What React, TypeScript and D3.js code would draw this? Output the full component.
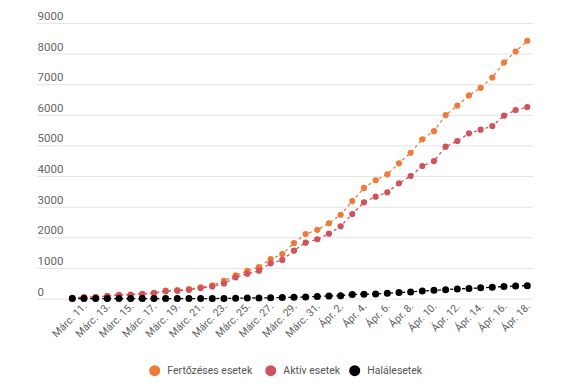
import React from "react";
import * as d3 from "d3";

const dates: string[] = [
  "Márc. 10.", "Márc. 11.", "Márc. 12.", "Márc. 13.", "Márc. 14.", "Márc. 15.", "Márc. 16.", "Márc. 17.",
  "Márc. 18.", "Márc. 19.", "Márc. 20.", "Márc. 21.", "Márc. 22.", "Márc. 23.", "Márc. 24.", "Márc. 25.",
  "Márc. 26.", "Márc. 27.", "Márc. 28.", "Márc. 29.", "Márc. 30.", "Márc. 31.",
  "Ápr. 1.", "Ápr. 2.", "Ápr. 3.", "Ápr. 4.", "Ápr. 5.", "Ápr. 6.", "Ápr. 7.", "Ápr. 8.", "Ápr. 9.",
  "Ápr. 10.", "Ápr. 11.", "Ápr. 12.", "Ápr. 13.", "Ápr. 14.", "Ápr. 15.", "Ápr. 16.", "Ápr. 17.", "Ápr. 18.",
];

const infected: number[] = [
  25, 45, 49, 89, 123, 131, 158, 184, 260, 277, 308, 367, 433, 576, 762, 906, 1029, 1292, 1452, 1815,
  2109, 2245, 2460, 2738, 3183, 3613, 3864, 4057, 4417, 4761, 5202, 5467, 5990, 6300, 6633, 6879, 7216,
  7707, 8067, 8418,
];

const active: number[] = [
  22, 43, 45, 85, 115, 125, 150, 175, 240, 254, 287, 342, 395, 490, 695, 812, 910, 1150, 1261, 1565,
  1826, 1937, 2119, 2361, 2762, 3144, 3327, 3470, 3764, 4002, 4328, 4491, 4958, 5144, 5395, 5513, 5633,
  5970, 6155, 6253,
];

const deaths: number[] = [
  0, 0, 0, 0, 0, 0, 0, 0, 0, 0, 0, 0, 2, 7, 11, 17, 23, 26, 37, 43, 52, 69, 85, 94, 133, 146, 151, 176,
  197, 215, 248, 270, 291, 316, 328, 351, 372, 392, 411, 421,
];

const yTicks: number[] = [0, 1000, 2000, 3000, 4000, 5000, 6000, 7000, 8000, 9000];

const seriesNames: string[] = ["Fertőzéses esetek", "Aktív esetek", "Halálesetek"];
const seriesColors: string[] = ["#ee7a3b", "#d0525c", "#000000"];

const W = 575;
const H = 387;

export default function App() {
  const x = d3.scaleLinear().domain([0, dates.length - 1]).range([72.3, 527.3]);
  const y = d3.scaleLinear().domain([0, 9000]).range([298.6, 22.9]);

  const line = d3
    .line<number>()
    .x((_, i) => x(i))
    .y((d) => y(d));

  const series = [infected, active, deaths];
  const radii = [3.1, 3.1, 3.5];
  const font = "Roboto, 'Noto Sans', sans-serif";

  const legendX = [154.7, 270.7, 354.7];

  return (
    <svg
      width={W}
      height={H}
      style={{ position: "absolute", left: 0, top: 0, background: "#fff" }}
      fontFamily={font}
    >
      <rect width={W} height={H} fill="#fff" />
      {yTicks.map((t) => (
        <g key={t}>
          <line x1={37} x2={533} y1={y(t) + 0.5} y2={y(t) + 0.5} stroke="#e3e3e3" strokeWidth={1} />
          <text x={37.5} y={y(t) - 3} fontSize={11.5} fill="#666">
            {t}
          </text>
        </g>
      ))}
      {dates.map((d, i) =>
        i % 2 === 1 ? (
          <text
            key={d}
            transform={`translate(${x(i) + 3.5},${307}) rotate(-45)`}
            textAnchor="end"
            fontSize={10.5}
            fill="#5f5f5f"
          >
            {d}
          </text>
        ) : null
      )}
      {series.map((s, k) => (
        <g key={k}>
          <path
            d={line(s) || ""}
            fill="none"
            stroke={seriesColors[k]}
            strokeWidth={1.3}
            strokeDasharray="3,3"
          />
          {s.map((v, i) => (
            <circle key={i} cx={x(i)} cy={y(v)} r={radii[k]} fill={seriesColors[k]} />
          ))}
        </g>
      ))}
      {seriesNames.map((n, k) => (
        <g key={n}>
          <circle cx={legendX[k]} cy={370.7} r={5.5} fill={seriesColors[k]} />
          <text x={legendX[k] + 12.6} y={370.7} dy="0.35em" fontSize={10.5} fill="#555">
            {n}
          </text>
        </g>
      ))}
    </svg>
  );
}
